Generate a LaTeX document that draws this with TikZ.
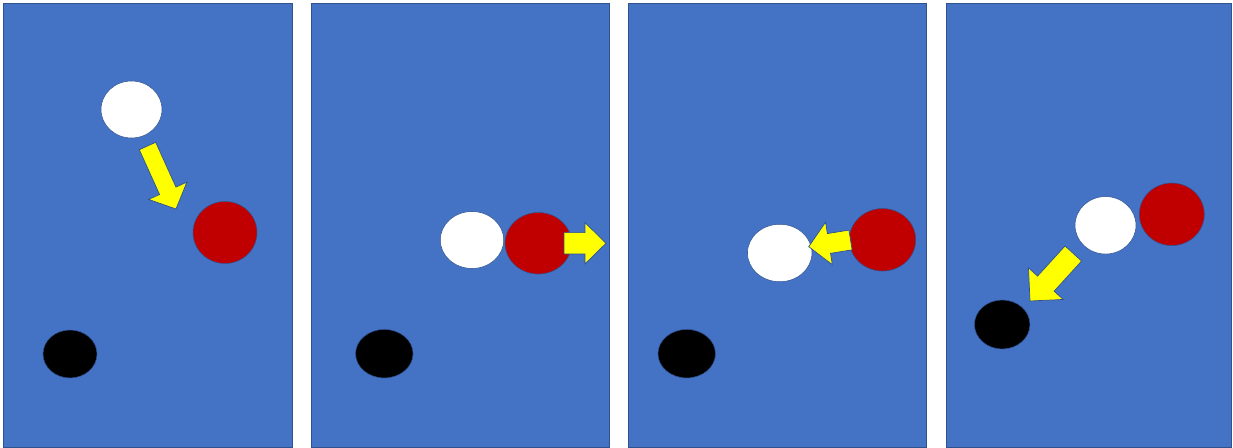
\documentclass[tikz,border=0pt]{standalone}
\usetikzlibrary{calc,shapes.geometric}
\definecolor{panelblue}{HTML}{4472C4}
\definecolor{edgeblue}{HTML}{2F528F}
\definecolor{ballred}{HTML}{C00000}
\definecolor{arrowyellow}{HTML}{FFFF00}
\tikzset{
  panel/.style={fill=panelblue, draw=edgeblue, line width=0.4pt},
  ball/.style={ellipse, draw=edgeblue, line width=0.3pt, inner sep=0pt, outer sep=0pt},
  whiteball/.style={ball, fill=white},
  redball/.style={ball, fill=ballred},
  blackball/.style={ball, fill=black},
  blockarrow/.style={fill=arrowyellow, draw=edgeblue, line width=0.4pt, line join=miter},
}
% #1 tail coordinate, #2 tip coordinate, #3 half shaft width, #4 half head width, #5 head length
\newcommand\blockarr[5]{%
  \coordinate (hb) at ($(#2)!#5!(#1)$);
  \draw[blockarrow] ($(#1)!#3!90:(#2)$) -- ($(hb)!#3!90:(#2)$) -- ($(hb)!#4!90:(#2)$)
    -- (#2) -- ($(hb)!#4!-90:(#2)$) -- ($(hb)!#3!-90:(#2)$) -- ($(#1)!#3!-90:(#2)$) -- cycle;
}
\begin{document}
\begin{tikzpicture}[x=0.02cm, y=-0.02cm]
\useasboundingbox (0,0) rectangle (1233,448);
\fill[white] (0,0) rectangle (1233,448);
% panels
\draw[panel] (3,3) rectangle (292,447.6);
\draw[panel] (311,3) rectangle (609,447.6);
\draw[panel] (628,3) rectangle (926,447.6);
\draw[panel] (946,3) rectangle (1231.6,447.6);
% panel 1
\node[whiteball, minimum width=1.22cm, minimum height=1.14cm] (w1) at (131.5,109.5) {};
\node[redball, minimum width=1.28cm, minimum height=1.24cm] (r1) at (225,232.5) {};
\node[blackball, minimum width=1.08cm, minimum height=0.96cm] (k1) at (70,354) {};
\coordinate (t1) at (147.5,146);
\coordinate (p1) at (176,209);
\blockarr{t1}{p1}{0.18cm}{0.42cm}{0.40cm}
% panel 2
\node[whiteball, minimum width=1.27cm, minimum height=1.14cm] (w2) at (472,240) {};
\node[redball, minimum width=1.33cm, minimum height=1.23cm] (r2) at (538.3,243.3) {};
\node[blackball, minimum width=1.15cm, minimum height=0.97cm] (k2) at (384.3,353.7) {};
\coordinate (t2) at (564,243.3);
\coordinate (p2) at (606,243.3);
\blockarr{t2}{p2}{0.213cm}{0.413cm}{0.42cm}
% panel 3
\node[whiteball, minimum width=1.29cm, minimum height=1.15cm] (w3) at (779.7,253) {};
\node[redball, minimum width=1.33cm, minimum height=1.25cm] (r3) at (882.5,239.8) {};
\node[blackball, minimum width=1.15cm, minimum height=0.97cm] (k3) at (686.7,353.7) {};
\coordinate (t3) at (850.5,240);
\coordinate (p3) at (808.7,246.7);
\blockarr{t3}{p3}{0.20cm}{0.43cm}{0.41cm}
% panel 4
\node[whiteball, minimum width=1.22cm, minimum height=1.15cm] (w4) at (1105.5,225.3) {};
\node[redball, minimum width=1.30cm, minimum height=1.25cm] (r4) at (1171.8,214.3) {};
\node[blackball, minimum width=1.11cm, minimum height=0.98cm] (k4) at (1002.2,324.5) {};
\coordinate (t4) at (1073.3,253.5);
\coordinate (p4) at (1030,301);
\blockarr{t4}{p4}{0.224cm}{0.47cm}{0.47cm}
\end{tikzpicture}
\end{document}
